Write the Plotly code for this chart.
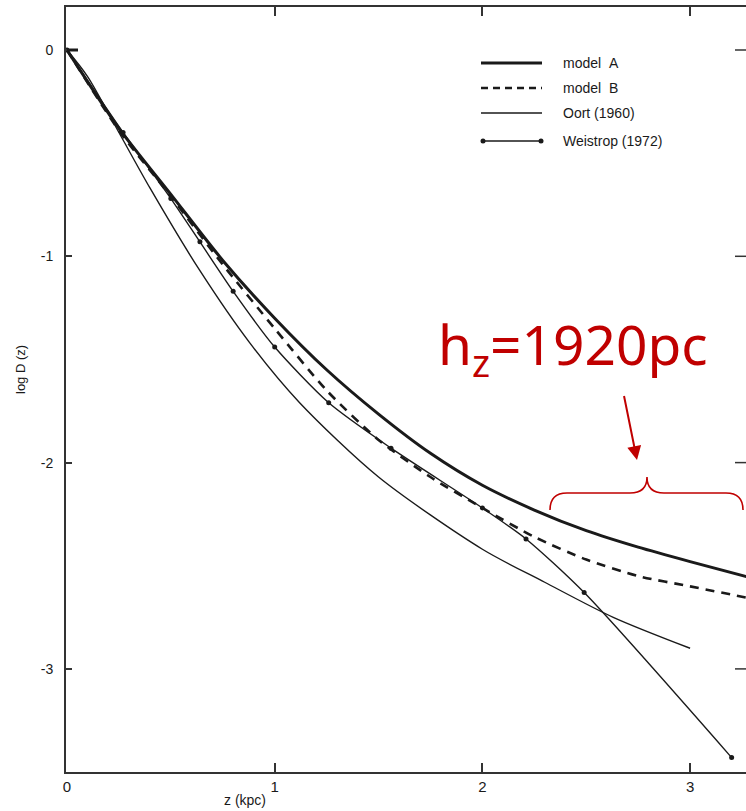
import plotly.graph_objects as go

# ---- data ----
model_a_z = [0.0, 0.25, 0.5, 0.75, 1.0, 1.25, 1.5, 1.75, 2.0, 2.25, 2.5, 2.75, 3.0, 3.3]
model_a_logd = [0.0, -0.38, -0.70, -1.02, -1.30, -1.55, -1.765, -1.955, -2.11, -2.23, -2.33, -2.41, -2.48, -2.56]

model_b_z = [0.0, 0.25, 0.5, 0.75, 1.0, 1.25, 1.5, 1.75, 2.0, 2.25, 2.5, 2.75, 3.0, 3.3]
model_b_logd = [0.0, -0.39, -0.71, -1.04, -1.35, -1.65, -1.89, -2.07, -2.22, -2.36, -2.47, -2.55, -2.60, -2.66]

oort_z = [0.0, 0.1, 0.25, 0.4, 0.64, 0.88, 1.12, 1.5, 2.0, 2.3, 2.63, 3.0]
oort_logd = [0.0, -0.13, -0.40, -0.67, -1.07, -1.42, -1.71, -2.07, -2.42, -2.58, -2.75, -2.90]

weistrop_z = [0.0, 0.27, 0.5, 0.64, 0.8, 1.0, 1.26, 1.56, 2.0, 2.21, 2.49, 3.2]
weistrop_logd = [0.0, -0.40, -0.72, -0.93, -1.17, -1.44, -1.71, -1.93, -2.22, -2.37, -2.63, -3.43]

x_ticks = [0, 1, 2, 3]
x_tick_labels = ["0", "1", "2", "3"]
y_ticks = [0, -1, -2, -3]
y_tick_labels = ["0", "-1", "-2", "-3"]

legend_labels = ["model\u00a0\u00a0A", "model\u00a0\u00a0B", "Oort (1960)", "Weistrop (1972)"]

# ---- layout geometry (pixels) ----
W, H = 746, 811
L, R, T, B = 66, 0, 7, 39
X0PX, XS = 67.0, 207.7
Y0PX, YS = 50.0, 206.3


def px_x(p):
    return (p - X0PX) / XS


def px_y(p):
    return -(p - Y0PX) / YS


def fx(p):
    return (p - L) / (W - L - R)


def fy(p):
    return (H - B - p) / (H - T - B)


INK = "#1a1a1a"
RED = "#C00000"

fig = go.Figure()
fig.add_trace(go.Scatter(x=model_a_z, y=model_a_logd, mode="lines",
                         line=dict(color=INK, width=3, shape="spline", smoothing=0.7),
                         showlegend=False))
fig.add_trace(go.Scatter(x=model_b_z, y=model_b_logd, mode="lines",
                         line=dict(color=INK, width=2.6, dash="9px,7px", shape="spline", smoothing=0.7),
                         showlegend=False))
fig.add_trace(go.Scatter(x=oort_z, y=oort_logd, mode="lines",
                         line=dict(color=INK, width=1.4, shape="spline", smoothing=0.8),
                         showlegend=False))
fig.add_trace(go.Scatter(x=weistrop_z, y=weistrop_logd, mode="lines+markers",
                         line=dict(color=INK, width=1.4, shape="spline", smoothing=0.7),
                         marker=dict(color=INK, size=5),
                         showlegend=False))

shapes = []
annotations = []

# right-side inward ticks (frame edge is cut off in the original)
for yv in y_ticks:
    shapes.append(dict(type="line", xref="paper", yref="y", x0=fx(735), x1=1.0, y0=yv, y1=yv,
                       line=dict(color="#333", width=1.5)))

# short thick stub at the origin, as in the original
shapes.append(dict(type="line", xref="x", yref="y", x0=0, x1=px_x(78), y0=0, y1=0,
                   line=dict(color=INK, width=3)))

# legend drawn by hand (long line samples)
leg_rows = [63, 88, 113, 141]
leg_styles = [dict(width=3, dash="solid"), dict(width=2.6, dash="7px,5px"),
              dict(width=1.4, dash="solid"), dict(width=1.4, dash="solid")]
for row, lab, st in zip(leg_rows, legend_labels, leg_styles):
    shapes.append(dict(type="line", xref="paper", yref="paper", x0=fx(481), x1=fx(542),
                       y0=fy(row), y1=fy(row), line=dict(color=INK, width=st["width"], dash=st["dash"])))
    annotations.append(dict(xref="paper", yref="paper", x=fx(561), y=fy(row), text=lab,
                            showarrow=False, xanchor="left", yanchor="middle",
                            font=dict(family="Liberation Sans", size=14, color=INK)))
for cx in (483, 541):
    shapes.append(dict(type="circle", xref="paper", yref="paper",
                       x0=fx(cx - 2.5), x1=fx(cx + 2.5), y0=fy(leg_rows[3] - 2.5), y1=fy(leg_rows[3] + 2.5),
                       fillcolor=INK, line=dict(width=0)))


# red brace
def P(px, py):
    return f"{px_x(px):.4f},{px_y(py):.4f}"


brace = (f"M {P(550, 510)} Q {P(550, 493)} {P(567, 493)} L {P(630, 493)} "
         f"Q {P(647, 493)} {P(647, 477)} Q {P(647, 493)} {P(664, 493)} "
         f"L {P(726, 493)} Q {P(743, 493)} {P(743, 510)}")
shapes.append(dict(type="path", xref="x", yref="y", path=brace, line=dict(color=RED, width=1.6)))

# red arrow
annotations.append(dict(xref="paper", yref="paper", x=fx(637), y=fy(460), ax=-15, ay=-74,
                        axref="pixel", ayref="pixel", text=" ", showarrow=True,
                        arrowhead=2, arrowsize=1.4, arrowwidth=2, arrowcolor=RED))
# red label
annotations.append(dict(xref="paper", yref="paper", x=fx(436), y=fy(347),
                        text="h<sub>z</sub>=1920pc", showarrow=False,
                        xanchor="left", yanchor="middle",
                        font=dict(family="Noto Sans", size=55, color=RED)))

# axis titles
annotations.append(dict(xref="paper", yref="paper", x=fx(245), y=fy(800), text="z (kpc)",
                        showarrow=False, xanchor="center", yanchor="middle",
                        font=dict(family="Liberation Sans", size=14, color=INK)))
annotations.append(dict(xref="paper", yref="paper", x=fx(20), y=fy(370), text="log D (z)",
                        showarrow=False, xanchor="center", yanchor="middle", textangle=-90,
                        font=dict(family="Liberation Sans", size=13, color=INK)))

fig.update_layout(
    width=W, height=H,
    margin=dict(l=L, r=R, t=T, b=B),
    paper_bgcolor="white", plot_bgcolor="white",
    showlegend=False,
    shapes=shapes, annotations=annotations,
    xaxis=dict(range=[px_x(L), px_x(W)], tickvals=x_ticks, ticktext=x_tick_labels,
               showgrid=False, zeroline=False, showline=True, linecolor="#333", linewidth=2,
               mirror="ticks", ticks="inside", ticklen=9, tickwidth=1.5, tickcolor="#333",
               tickfont=dict(family="Liberation Sans", size=15, color=INK)),
    yaxis=dict(range=[px_y(H - B), px_y(T)], tickvals=y_ticks, ticktext=y_tick_labels,
               showgrid=False, zeroline=False, showline=True, linecolor="#333", linewidth=2,
               ticks="inside", ticklen=6, tickwidth=1.5, tickcolor="#333",
               ticklabelstandoff=8,
               tickfont=dict(family="Liberation Sans", size=14, color=INK)),
)

fig.write_html("out.html")
